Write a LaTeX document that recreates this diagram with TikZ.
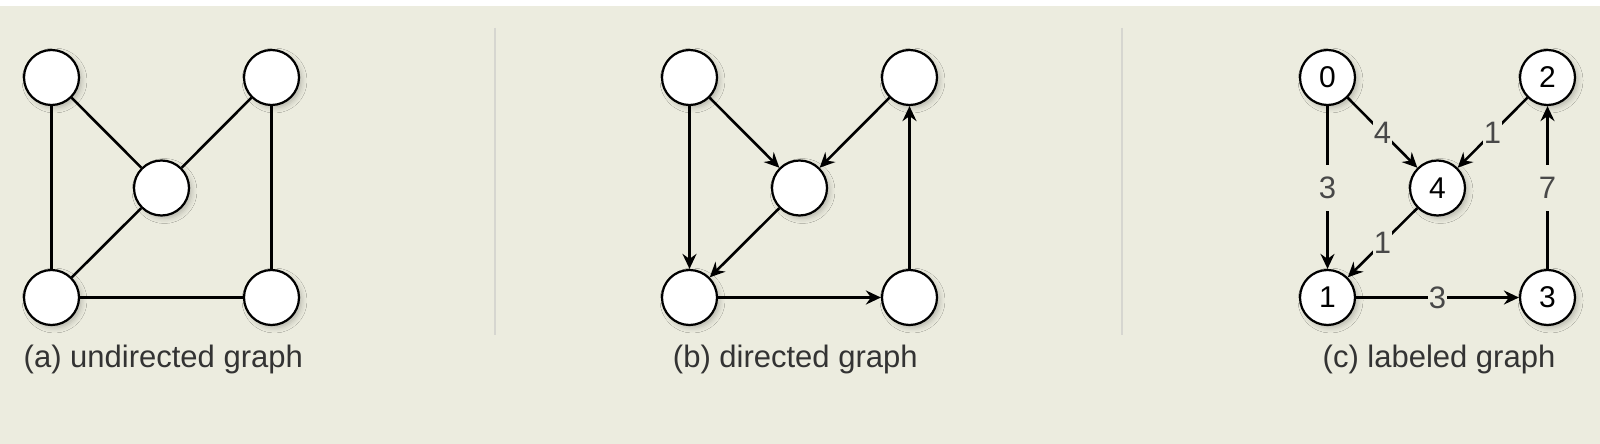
\documentclass[tikz,border=0pt]{standalone}
\usepackage{fontspec}
\setmainfont{Liberation Sans}
\usetikzlibrary{arrows.meta,shadows.blur}
\definecolor{bg}{RGB}{236,236,223}
\definecolor{sepc}{RGB}{214,214,208}
\definecolor{captxt}{RGB}{51,51,51}
\definecolor{lbltxt}{RGB}{72,72,72}
\tikzset{
 vtx/.style={circle, draw=black, line width=2.2pt, fill=white, minimum size=55pt, inner sep=0pt,
   font=\fontsize{30}{32}\selectfont,
   blur shadow={shadow xshift=3pt, shadow yshift=-3pt, shadow blur radius=5pt, shadow opacity=22}},
 edgeline/.style={line width=2.6pt, draw=black},
 arr/.style={edgeline, -{Stealth[length=15pt,width=14pt,inset=5pt]}},
 elbl/.style={fill=bg, text=lbltxt, font=\fontsize{31}{33}\selectfont, inner xsep=1pt, inner ysep=12pt,
   text height=22pt, text depth=0pt},
 captn/.style={text=captxt, font=\fontsize{31}{34}\selectfont, anchor=base},
 sepline/.style={draw=sepc, line width=1.5pt}
}
\begin{document}
\begin{tikzpicture}[x=1pt,y=-1pt]
\useasboundingbox (0,0) rectangle (1600,444);
\fill[white] (0,0) rectangle (1600,6);
\fill[bg] (0,6) rectangle (1600,444);
\draw[sepline] (495,28) -- (495,335);
\draw[sepline] (1122,28) -- (1122,335);

% (a) undirected
\node[vtx] (a1) at (51.5,77.5) {};
\node[vtx] (a2) at (271.5,77.5) {};
\node[vtx] (a3) at (161.5,188) {};
\node[vtx] (a4) at (51.5,297.5) {};
\node[vtx] (a5) at (271.5,297.5) {};
\draw[edgeline] (a1) -- (a4);
\draw[edgeline] (a1) -- (a3);
\draw[edgeline] (a2) -- (a3);
\draw[edgeline] (a2) -- (a5);
\draw[edgeline] (a3) -- (a4);
\draw[edgeline] (a4) -- (a5);
\node[captn] (capa) at (163.3,367) {(a) undirected graph};

% (b) directed
\node[vtx] (b1) at (689.5,77.5) {};
\node[vtx] (b2) at (909.5,77.5) {};
\node[vtx] (b3) at (799.5,188) {};
\node[vtx] (b4) at (689.5,297.5) {};
\node[vtx] (b5) at (909.5,297.5) {};
\draw[arr] (b1) -- (b4);
\draw[arr] (b1) -- (b3);
\draw[arr] (b2) -- (b3);
\draw[arr] (b3) -- (b4);
\draw[arr] (b4) -- (b5);
\draw[arr] (b5) -- (b2);
\node[captn] (capb) at (795.3,367) {(b) directed graph};

% (c) labeled
\node[vtx] (c0) at (1327.5,77.5) {0};
\node[vtx] (c2) at (1547.5,77.5) {2};
\node[vtx] (c4) at (1437.5,188) {4};
\node[vtx] (c1) at (1327.5,297.5) {1};
\node[vtx] (c3) at (1547.5,297.5) {3};
\draw[arr] (c0) -- node[elbl] (l01) {3} (c1);
\draw[arr] (c0) -- node[elbl] (l04) {4} (c4);
\draw[arr] (c2) -- node[elbl] (l24) {1} (c4);
\draw[arr] (c4) -- node[elbl] (l41) {1} (c1);
\draw[arr] (c1) -- node[elbl] (l13) {3} (c3);
\draw[arr] (c3) -- node[elbl] (l32) {7} (c2);
\node[captn] (capc) at (1439,367) {(c) labeled graph};
\end{tikzpicture}
\end{document}
